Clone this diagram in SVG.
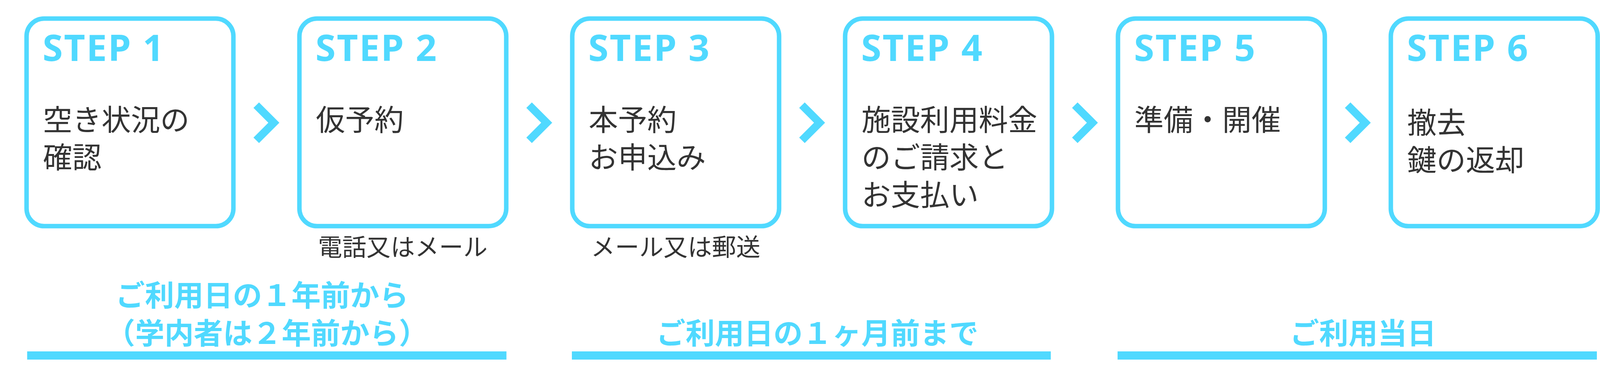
<svg xmlns="http://www.w3.org/2000/svg" width="4175" height="985" viewBox="0 0 4175 985">
<style>
.box{fill:#fff;stroke:#50D9FF;stroke-width:11.5}
.chev{fill:none;stroke:#50D9FF;stroke-width:20;stroke-linejoin:miter;stroke-linecap:butt}
.bar{fill:#50D9FF}
.step{font-family:"Noto Sans","Noto Sans CJK JP",sans-serif;font-weight:700;font-size:94px;letter-spacing:3px;fill:#50D9FF}
.body{font-family:"Noto Sans CJK JP",sans-serif;font-weight:400;font-size:75px;fill:#333}
.sub{font-family:"Noto Sans CJK JP",sans-serif;font-weight:400;font-size:62px;fill:#333;text-anchor:middle}
.blue{font-family:"Noto Sans CJK JP",sans-serif;font-weight:700;font-size:75px;fill:#50D9FF}
</style>
<rect width="4175" height="985" fill="#fff"/>
<g id="connectors">
<polyline class="chev" points="656,269 701,314 656,359"/>
<polyline class="chev" points="1354.5,269 1399.5,314 1354.5,359"/>
<polyline class="chev" points="2053,269 2098,314 2053,359"/>
<polyline class="chev" points="2751.5,269 2796.5,314 2751.5,359"/>
<polyline class="chev" points="3450,269 3495,314 3450,359"/>
</g>
<g id="step1">
<rect class="box" x="68" y="47.5" width="529.5" height="531" rx="45"/>
<text class="step" x="109" y="156">STEP 1</text>
<text class="body" x="110" y="334">空き状況の</text>
<text class="body" x="110" y="430">確認</text>
</g>
<g id="step2">
<rect class="box" x="766.5" y="47.5" width="529.5" height="531" rx="45"/>
<text class="step" x="807.5" y="156">STEP 2</text>
<text class="body" x="808.5" y="334">仮予約</text>
<text class="sub" x="1031" y="655">電話又はメール</text>
</g>
<g id="step3">
<rect class="box" x="1465" y="47.5" width="529.5" height="531" rx="45"/>
<text class="step" x="1506" y="156">STEP 3</text>
<text class="body" x="1507" y="334">本予約</text>
<text class="body" x="1507" y="430">お申込み</text>
<text class="sub" x="1729.5" y="655">メール又は郵送</text>
</g>
<g id="step4">
<rect class="box" x="2163.5" y="47.5" width="529.5" height="531" rx="45"/>
<text class="step" x="2204.5" y="156">STEP 4</text>
<text class="body" x="2205.5" y="334">施設利用料金</text>
<text class="body" x="2205.5" y="430">のご請求と</text>
<text class="body" x="2205.5" y="526">お支払い</text>
</g>
<g id="step5">
<rect class="box" x="2862" y="47.5" width="529.5" height="531" rx="45"/>
<text class="step" x="2903" y="156">STEP 5</text>
<text class="body" x="2904" y="334">準備・開催</text>
</g>
<g id="step6">
<rect class="box" x="3560.5" y="47.5" width="529.5" height="531" rx="45"/>
<text class="step" x="3601.5" y="156">STEP 6</text>
<text class="body" x="3602.5" y="341">撤去</text>
<text class="body" x="3602.5" y="437">鍵の返却</text>
</g>
<g id="period1">
<text class="blue" x="296" y="783">ご利用日の１年前から</text>
<text class="blue" x="271" y="880">（学内者は２年前から）</text>
<rect class="bar" x="69.5" y="899" width="1227" height="21"/>
</g>
<g id="period2">
<text class="blue" x="1680" y="880">ご利用日の１ヶ月前まで</text>
<rect class="bar" x="1464" y="899" width="1226" height="21"/>
</g>
<g id="period3">
<text class="blue" x="3302" y="880">ご利用当日</text>
<rect class="bar" x="2861" y="899" width="1227" height="21"/>
</g>
</svg>
